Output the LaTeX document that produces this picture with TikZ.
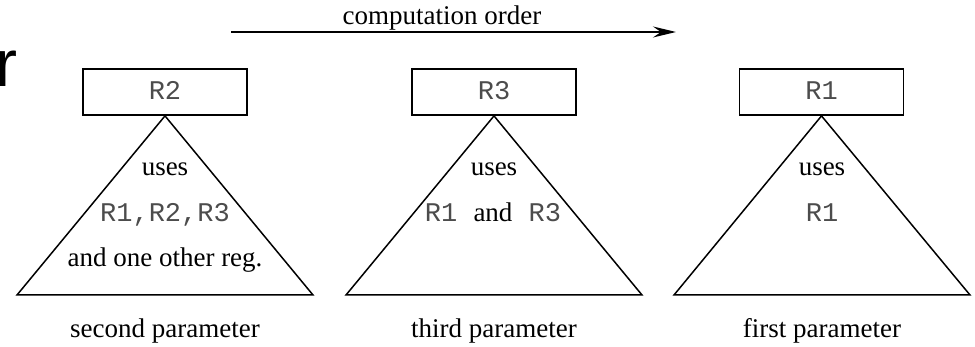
\documentclass[tikz,border=0pt]{standalone}
\usepackage{fontspec}
\setmainfont{Liberation Serif}
\setmonofont{Liberation Mono}
\setsansfont{Liberation Sans}
\usetikzlibrary{arrows.meta}
\newcommand{\mtt}[1]{\textcolor{black!70}{\ttfamily #1}}
\begin{document}
\begin{tikzpicture}[x=0.5pt,y=-0.5pt,
  lbl/.style={inner sep=0pt,anchor=base,font=\fontsize{13.5}{16}\selectfont},
  reg/.style={draw,line width=0.9pt,minimum width=82pt,minimum height=23pt,inner sep=0pt},
  regtxt/.style={inner sep=0pt,anchor=base,font=\fontsize{13.5}{16}\selectfont\ttfamily,text=black!70},
  tri/.style={draw,line width=0.75pt,line join=miter}]
\useasboundingbox (0,0) rectangle (975,347);
\node[inner sep=0pt,anchor=base west,font=\fontsize{33}{36}\selectfont\sffamily] (bigr) at (-5,87) {r};
% arrow
\coordinate (as) at (231,32);
\coordinate (ae) at (676,32);
\draw[line width=1pt,-{Stealth[length=11.5pt,width=5.5pt,inset=4pt]}] (as) -- (ae);
\node[lbl] (order) at (442,25) {computation order};
% boxes
\node[reg] (b1) at (165,92) {};
\node[reg] (b2) at (494,92) {};
\node[reg] (b3) at (821.5,92) {};
\node[regtxt] (t1) at (165,100) {R2};
\node[regtxt] (t2) at (494,100) {R3};
\node[regtxt] (t3) at (821.5,100) {R1};
% triangles
\coordinate (l1) at (17,295); \coordinate (r1) at (313,295);
\coordinate (l2) at (346,295); \coordinate (r2) at (642,295);
\coordinate (l3) at (674,295); \coordinate (r3) at (970,295);
\draw[tri] (b1.south) -- (l1) -- (r1) -- cycle;
\draw[tri] (b2.south) -- (l2) -- (r2) -- cycle;
\draw[tri] (b3.south) -- (l3) -- (r3) -- cycle;
% contents
\node[lbl] (u1) at (165,176) {uses};
\node[lbl] (u2) at (494,176) {uses};
\node[lbl] (u3) at (822,176) {uses};
\node[lbl] (c1) at (165,222) {\mtt{R1,R2,R3}};
\node[lbl] (c2) at (493,222) {\mtt{R1 }and\mtt{ R3}};
\node[lbl] (c3) at (822,222) {\mtt{R1}};
\node[lbl] (o1) at (165,267) {and one other reg.};
% captions
\node[lbl] (p1) at (165,337) {second parameter};
\node[lbl] (p2) at (494,337) {third parameter};
\node[lbl] (p3) at (822,337) {first parameter};
\end{tikzpicture}
\end{document}
